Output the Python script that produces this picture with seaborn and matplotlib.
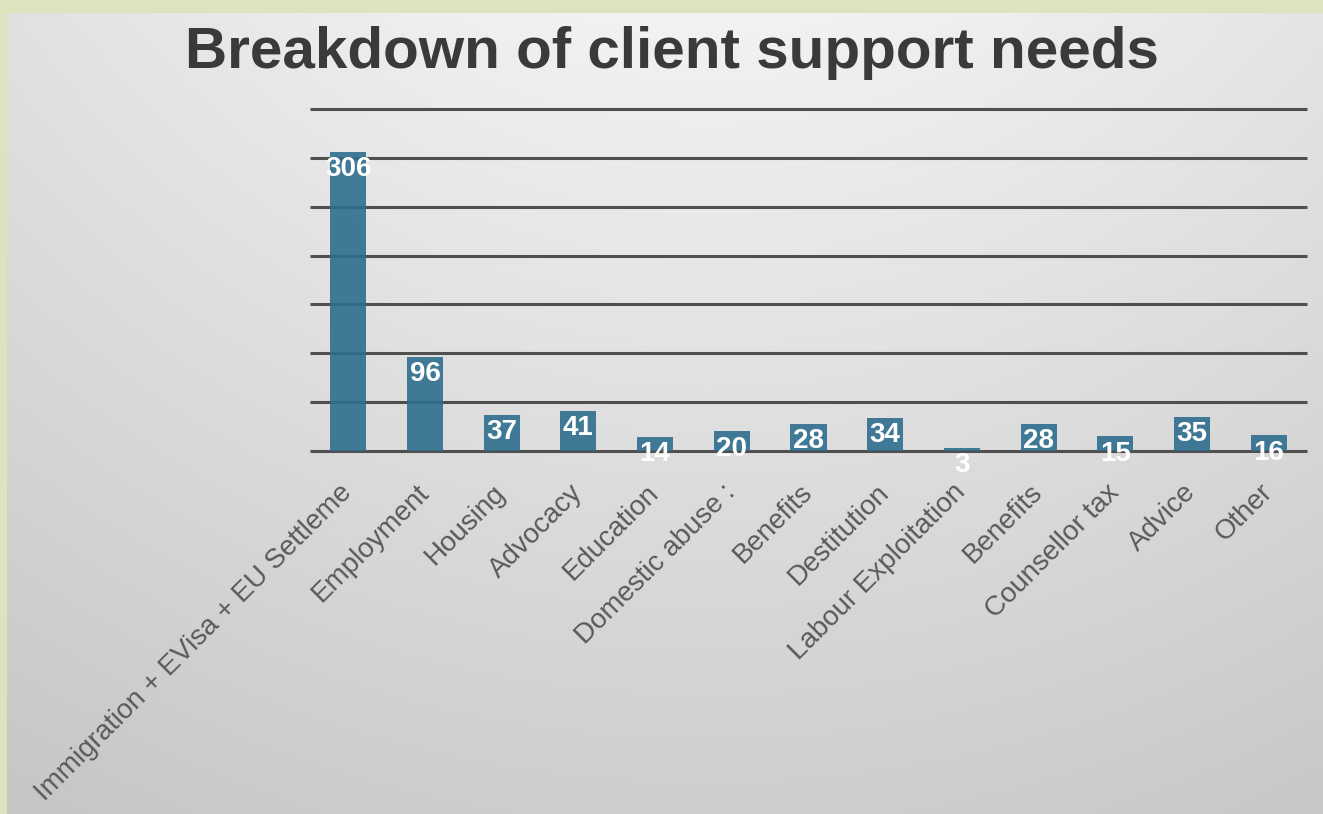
import numpy as np
import pandas as pd
import matplotlib
matplotlib.use("Agg")
import matplotlib.pyplot as plt
import seaborn as sns

categories = ["Immigration + EVisa + EU Settleme", "Employment", "Housing", "Advocacy",
              "Education", "Domestic abuse :", "Benefits", "Destitution",
              "Labour Exploitation", "Benefits", "Counsellor tax", "Advice", "Other"]
values = [306, 96, 37, 41, 14, 20, 28, 34, 3, 28, 15, 35, 16]
title = "Breakdown of client support needs"

sns.set_theme(style="white")
plt.rcParams["font.family"] = ["Liberation Sans", "DejaVu Sans"]

W, H = 1323, 814
fig = plt.figure(figsize=(W / 100, H / 100), dpi=100)
fig.patch.set_facecolor("#dce4bd")

# background panel with soft radial gradient
bg = fig.add_axes([7 / W, 0, (W - 7) / W, (H - 13) / H], zorder=-10)
yy, xx = np.mgrid[0:H - 13, 0:W - 7]
d = np.sqrt((xx - 700) ** 2 + (yy + 450) ** 2)
t = np.clip((d - 450) / 950, 0, 1)
shade = 0.95 - 0.17 * t
bg.imshow(np.dstack([shade] * 3), aspect="auto", interpolation="bilinear")
bg.set_axis_off()

ax = fig.add_axes([310 / W, (H - 451) / H, 997 / W, 342 / H])
ax.set_facecolor("none")
keys = [str(i) for i in range(len(categories))]
df = pd.DataFrame({"key": keys, "value": values})
sns.barplot(data=df, x="key", y="value", order=keys, color="#2e6e8e",
            saturation=1, width=0.47, ax=ax, zorder=3, alpha=0.9, linewidth=0)
ax.set_ylim(0, 350)
ax.set_xlim(-0.5, len(categories) - 0.5)
ax.set_yticks(np.arange(0, 351, 50))
ax.yaxis.grid(True, color="#4f4f4f", linewidth=2.2, zorder=1)
for gl in ax.get_ygridlines():
    gl.set_clip_on(False)
    gl.set_solid_capstyle("butt")
ax.set_axisbelow(True)
for s in ax.spines.values():
    s.set_visible(False)
ax.set_yticklabels([])
ax.tick_params(axis="y", length=0)
ax.set_xlabel("")
ax.set_ylabel("")
ax.set_xticks(range(len(categories)))
ax.set_xticklabels(categories, rotation=45, ha="right", va="center",
                   rotation_mode="anchor", fontsize=20, color="#5a5a5a")
ax.tick_params(axis="x", length=0, pad=27)

for i, v in enumerate(values):
    ax.annotate(str(v), (i, v), xytext=(0, -3), textcoords="offset points",
                ha="center", va="top", color="white", fontsize=20,
                fontweight="bold", zorder=5, annotation_clip=False)

fig.text(672 / W, 1 - 53 / H, title, ha="center", va="center", fontsize=42,
         fontweight="bold", color="#3a3a3a")

fig.savefig("out.png", dpi=100)
